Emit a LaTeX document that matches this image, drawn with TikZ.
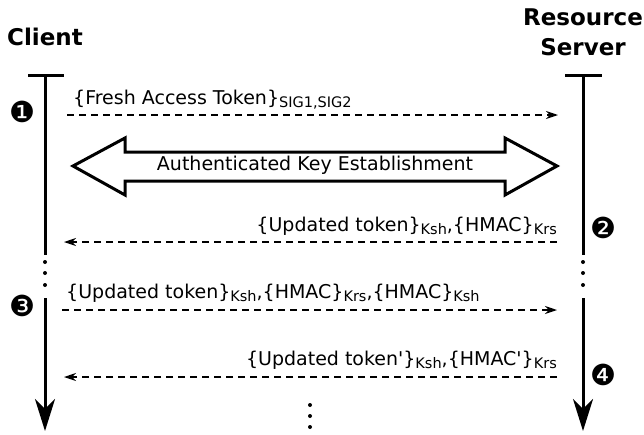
\documentclass[tikz,border=0pt]{standalone}
\usepackage{fontspec}
\setmainfont{DejaVu Sans}
\usetikzlibrary{arrows.meta}
\newcommand\lowtext[1]{\raisebox{-3pt}{\fontsize{14.5}{14.5}\selectfont #1}}
\begin{document}
\begin{tikzpicture}[x=1pt,y=-1pt,
  life/.style={line width=3pt},
  lifearrow/.style={line width=3pt,-{Stealth[length=32pt,width=20pt,inset=10pt]}},
  msg/.style={line width=1.5pt,dash pattern=on 7pt off 5pt,-{Stealth[length=12pt,width=8pt,inset=4pt]}},
  lbl/.style={font=\fontsize{19}{20}\selectfont,inner sep=0pt},
  title/.style={font=\fontsize{23}{30}\selectfont\bfseries,align=center,inner sep=0pt},
  num/.style={font=\fontsize{29}{29}\selectfont,inner sep=0pt},
  dot/.style={circle,fill,inner sep=0pt,minimum size=4pt}]
\useasboundingbox (0,0) rectangle (644,434);
% titles
\node[title] (client) at (45,37) {Client};
\node[title] (server) at (583,32) {Resource\\Server};
% client lifeline
\coordinate (c0) at (45,75);
\coordinate (c1) at (45,255);
\coordinate (c2) at (45,298);
\coordinate (c3) at (45,431);
\coordinate (cl) at (28,75); \coordinate (cr) at (64,75);
\draw[life] (cl) -- (cr);
\draw[life] (c0) -- (c1);
\draw[lifearrow] (c2) -- (c3);
\node[dot] (cd1) at (45,262) {};
\node[dot] (cd2) at (45,273) {};
\node[dot] (cd3) at (45,285) {};
% server lifeline
\coordinate (s0) at (583,75);
\coordinate (s1) at (583,255);
\coordinate (s2) at (583,298);
\coordinate (s3) at (583,431);
\coordinate (sl) at (565,75); \coordinate (sr) at (602,75);
\draw[life] (sl) -- (sr);
\draw[life] (s0) -- (s1);
\draw[lifearrow] (s2) -- (s3);
\node[dot] (sd1) at (583,262) {};
\node[dot] (sd2) at (583,273) {};
\node[dot] (sd3) at (583,285) {};
% numbers
\node[num] (n1) at (22,112) {❶};
\node[num] (n2) at (603,228) {❷};
\node[num] (n3) at (22,306) {❸};
\node[num] (n4) at (603,375) {❹};
% message 1
\coordinate (m1a) at (67,115); \coordinate (m1b) at (558,115);
\draw[msg] (m1a) -- (m1b);
\node[lbl,anchor=base west] (l1) at (73,104) {\{Fresh Access Token\}\lowtext{SIG1,SIG2}};
% double arrow
\draw[line width=3pt,line join=miter,fill=white]
  (73,166) -- (125,138) -- (125,152) -- (505,152) -- (505,138) -- (557,166)
  -- (505,195) -- (505,181) -- (125,181) -- (125,195) -- cycle;
\node[lbl] (akel) at (315,165) {Authenticated Key Establishment};
% message 2
\coordinate (m2a) at (557,242); \coordinate (m2b) at (64,242);
\draw[msg] (m2a) -- (m2b);
\node[lbl,anchor=base east] (l2) at (557,231) {\{Updated token\}\lowtext{Ksh},\{HMAC\}\lowtext{Krs}};
% message 3
\coordinate (m3a) at (62,310); \coordinate (m3b) at (557,310);
\draw[msg] (m3a) -- (m3b);
\node[lbl,anchor=base west] (l3) at (66,298) {\{Updated token\}\lowtext{Ksh},\{HMAC\}\lowtext{Krs},\{HMAC\}\lowtext{Ksh}};
% message 4
\coordinate (m4a) at (557,377); \coordinate (m4b) at (64,377);
\draw[msg] (m4a) -- (m4b);
\node[lbl,anchor=base east] (l4) at (557,365) {\{Updated token\textquotesingle\}\lowtext{Ksh},\{HMAC\textquotesingle\}\lowtext{Krs}};
% bottom dots
\node[dot] (bd1) at (310,405) {};
\node[dot] (bd2) at (310,416) {};
\node[dot] (bd3) at (310,427) {};
\end{tikzpicture}
\end{document}
